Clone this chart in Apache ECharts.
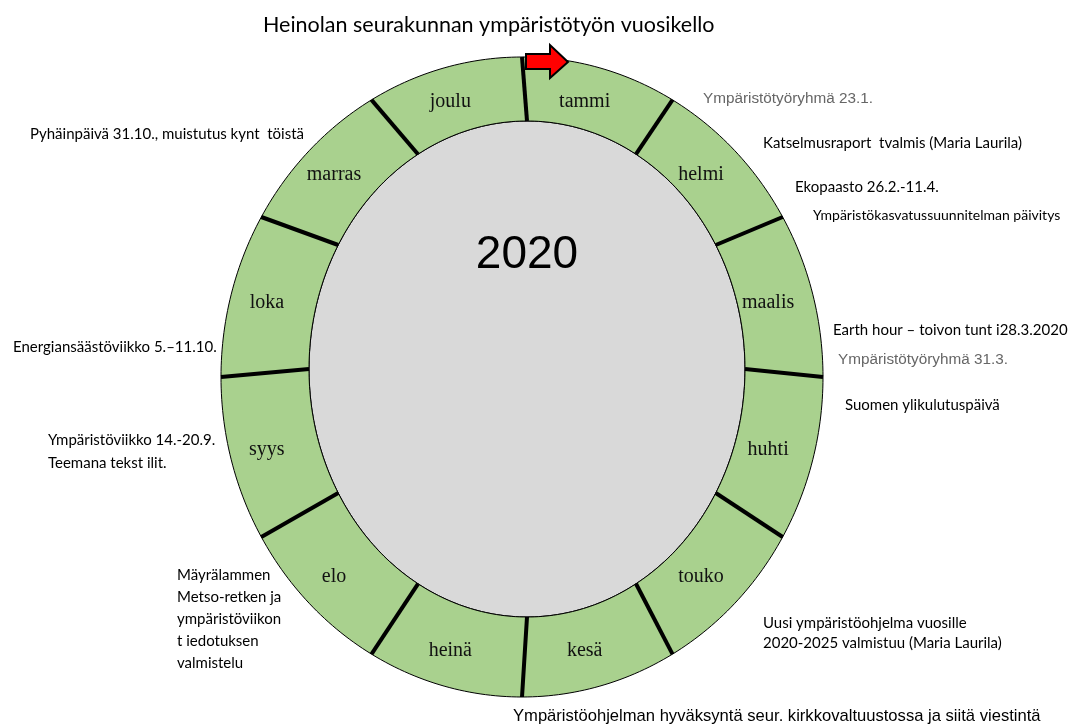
<!DOCTYPE html>
<html>
<head>
<meta charset="utf-8">
<script src="https://cdn.jsdelivr.net/npm/echarts@6/dist/echarts.min.js"></script>
<style>html,body{margin:0;padding:0;background:#fff}#main{width:1091px;height:727px}</style>
</head>
<body>
<div id="main"></div>
<script>
// kuukaudet myötäpäivään klo 12:sta alkaen
var months = ['tammi', 'helmi', 'maalis', 'huhti', 'touko', 'kesä', 'heinä', 'elo', 'syys', 'loka', 'marras', 'joulu'];
var monthShare = [1, 1, 1, 1, 1, 1, 1, 1, 1, 1, 1, 1];
var yearLabel = '2020';
var chartTitle = 'Heinolan seurakunnan ympäristötyön vuosikello';

// tapahtumat kehän ympärillä
var notes = [
	'Ympäristötyöryhmä 23.1.',
	'Katselmusraport  tvalmis (Maria Laurila)',
	'Ekopaasto 26.2.-11.4.',
	'Ympäristökasvatussuunnitelman päivitys',
	'Earth hour – toivon tunt i28.3.2020',
	'Ympäristötyöryhmä 31.3.',
	'Suomen ylikulutuspäivä',
	'Pyhäinpäivä 31.10., muistutus kynt  töistä',
	'Energiansäästöviikko 5.–11.10.',
	'Ympäristöviikko 14.-20.9.\nTeemana tekst ilit.',
	'Mäyrälammen\nMetso-retken ja\nympäristöviikon\nt iedotuksen\nvalmistelu',
	'Uusi ympäristöohjelma vuosille\n2020-2025 valmistuu (Maria Laurila)',
	'Ympäristöohjelman hyväksyntä seur. kirkkovaltuustossa ja siitä viestintä'
];

// sijainnit (x, yläreuna, riviväli, tyyli)
var noteLayout = [
	[703, 89, 20, 'gray'],
	[763, 133, 20, 'cal'],
	[795, 177, 20, 'cal'],
	[813, 205, 20, 'calS'],
	[833, 320, 20, 'cal'],
	[838, 350, 20, 'gray'],
	[845, 395, 20, 'cal'],
	[30, 124, 20, 'cal'],
	[13, 337, 20, 'cal'],
	[48, 429, 23, 'cal'],
	[177, 564, 22, 'cal'],
	[763, 613, 20, 'cal'],
	[513, 706, 20, 'arial']
];

var OUTER = { cx: 522, cy: 377, rx: 301, ry: 320 };
var INNER = { cx: 527, cy: 369, rx: 218, ry: 248 };

var total = monthShare.reduce(function (a, b) { return a + b; }, 0);
var cum = 0;
var segData = months.map(function (m, i) {
	var s = cum;
	cum += monthShare[i];
	return { name: m, value: [s / total, cum / total] };
});

function ePt(e, deg, api) {
	var a = deg * Math.PI / 180;
	return api.coord([e.cx + e.rx * Math.cos(a), e.cy - e.ry * Math.sin(a)]);
}

function renderMonth(params, api) {
	var a0 = 90 - 360 * api.value(0);
	var a1 = 90 - 360 * api.value(1);
	var pts = [];
	var n = 30;
	for (var k = 0; k <= n; k++) pts.push(ePt(OUTER, a0 + (a1 - a0) * k / n, api));
	for (var k = n; k >= 0; k--) pts.push(ePt(INNER, a0 + (a1 - a0) * k / n, api));
	var am = (a0 + a1) / 2;
	var po = ePt(OUTER, am, api), pi = ePt(INNER, am, api);
	var s0 = ePt(OUTER, a0, api), s1 = ePt(INNER, a0, api);
	return {
		type: 'group',
		children: [{
			type: 'polygon',
			shape: { points: pts },
			style: { fill: '#a9d18e', stroke: '#000', lineWidth: 1 }
		}, {
			type: 'line',
			z2: 20,
			shape: { x1: s0[0], y1: s0[1], x2: s1[0], y2: s1[1] },
			style: { stroke: '#000', lineWidth: 4 }
		}, {
			type: 'text',
			z2: 30,
			x: (po[0] + pi[0]) / 2 - 7,
			y: (po[1] + pi[1]) / 2 + 3,
			style: {
				text: months[params.dataIndex],
				fill: '#111',
				font: '20px "Liberation Serif", "Times New Roman", serif',
				align: 'center', verticalAlign: 'middle',
				textAlign: 'center', textVerticalAlign: 'middle'
			}
		}]
	};
}

function renderInner(params, api) {
	var pts = [];
	for (var k = 0; k < 120; k++) pts.push(ePt(INNER, k * 3, api));
	var c = api.coord([INNER.cx, 255]);
	return {
		type: 'group',
		children: [{
			type: 'polygon',
			shape: { points: pts },
			style: { fill: '#d9d9d9', stroke: '#000', lineWidth: 1 }
		}, {
			type: 'text',
			x: c[0], y: c[1],
			style: {
				text: yearLabel,
				fill: '#000',
				font: '46px "Liberation Sans", Arial, sans-serif',
				align: 'center', verticalAlign: 'middle',
				textAlign: 'center', textVerticalAlign: 'middle'
			}
		}]
	};
}

var fonts = {
	cal: { font: '15px Lato, sans-serif', fill: '#000' },
	calS: { font: '14px Lato, sans-serif', fill: '#000' },
	gray: { font: '15.3px "Liberation Sans", Arial, sans-serif', fill: '#666' },
	arial: { font: '16.6px "Liberation Sans", Arial, sans-serif', fill: '#000' }
};

var noteGraphics = notes.map(function (t, i) {
	var l = noteLayout[i];
	return {
		type: 'text',
		x: l[0], y: l[1],
		style: {
			text: t,
			font: fonts[l[3]].font,
			fill: fonts[l[3]].fill,
			lineHeight: l[2],
			verticalAlign: 'top',
			textVerticalAlign: 'top'
		}
	};
});

// punainen nuoli kehän yläosassa
noteGraphics.push({
	type: 'polygon',
	z: 100,
	shape: { points: [[526, 54], [550, 54], [550, 45], [568, 62], [550, 78], [550, 69], [526, 69]] },
	style: { fill: '#ff0000', stroke: '#000', lineWidth: 2 }
});

var myChart = echarts.init(document.getElementById('main'));

option = {
	backgroundColor: '#fff',
	animation: false,
	title: {
		text: chartTitle,
		left: 258,
		top: 9,
		textStyle: { fontFamily: 'Lato', fontSize: 21.5, fontWeight: 'normal', color: '#000' }
	},
	grid: { left: 0, right: 0, top: 0, bottom: 0 },
	xAxis: { type: 'value', min: 0, max: 1091, show: false },
	yAxis: { type: 'value', min: 0, max: 727, inverse: true, show: false },
	series: [{
		type: 'custom',
		name: 'inner',
		data: [[0]],
		renderItem: renderInner,
		z: 1
	}, {
		type: 'custom',
		name: 'kuukaudet',
		data: segData,
		renderItem: renderMonth,
		z: 2
	}],
	graphic: noteGraphics
};

myChart.setOption(option);
</script>
</body>
</html>
